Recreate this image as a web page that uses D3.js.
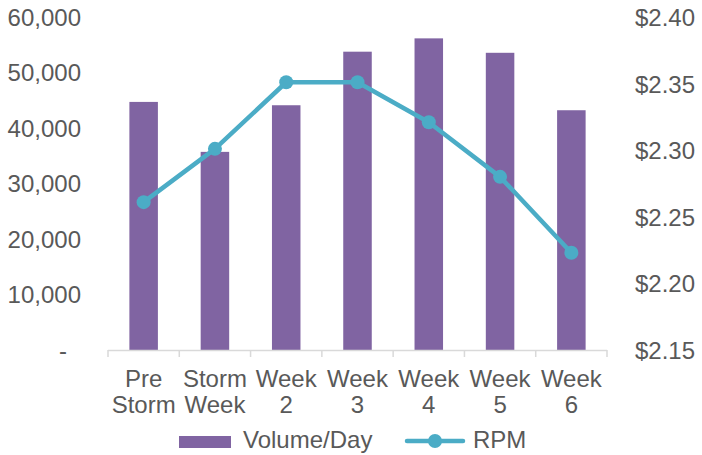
<!DOCTYPE html>
<html><head><meta charset="utf-8">
<script src="https://cdn.jsdelivr.net/npm/d3@7"></script>
<style>body{margin:0;background:#fff}svg{display:block;font-family:"Liberation Sans",Arial,sans-serif}</style>
</head><body>
<svg id="c" width="702" height="455"></svg>
<script>
const categories = [["Pre","Storm"],["Storm","Week"],["Week","2"],["Week","3"],["Week","4"],["Week","5"],["Week","6"]];
const volumePerDay = [44700, 35700, 44100, 53750, 56150, 53550, 43200];
const rpm = [2.261, 2.301, 2.351, 2.351, 2.321, 2.280, 2.223];
const leftTicks = [0, 10000, 20000, 30000, 40000, 50000, 60000];
const rightTicks = [2.15, 2.20, 2.25, 2.30, 2.35, 2.40];
const seriesNames = ["Volume/Day", "RPM"];

const barColor = "#8064A2", lineColor = "#4BACC6", textColor = "#595959", axisColor = "#D9D9D9";
const svg = d3.select("#c");
const keys = categories.map((d,i)=>i);
const x = d3.scaleBand().domain(keys).range([108, 607]).padding(0);
const yL = d3.scaleLinear().domain([0, 60000]).range([350, 17]);
const yR = d3.scaleLinear().domain([2.15, 2.40]).range([350, 17]);

// bars
const bw = x.bandwidth() * 0.4;
svg.append("g").selectAll("rect").data(volumePerDay).join("rect")
  .attr("x", (d,i)=>x(i) + x.bandwidth()/2 - bw/2)
  .attr("y", d=>yL(d)).attr("width", bw).attr("height", d=>yL(0)-yL(d))
  .attr("fill", barColor);

// x axis
const xg = svg.append("g").attr("transform", "translate(0,350)");
xg.append("line").attr("x1",108).attr("x2",607).attr("y1",0.5).attr("y2",0.5).attr("stroke",axisColor).attr("stroke-width",1.5);
const bounds = keys.map(i=>x(i)).concat([607]);
xg.selectAll("line.t").data(bounds).join("line").attr("class","t")
  .attr("x1",d=>d).attr("x2",d=>d).attr("y1",0).attr("y2",7).attr("stroke",axisColor).attr("stroke-width",1.5);
const lbl = xg.selectAll("text").data(categories).join("text")
  .attr("text-anchor","middle").attr("fill",textColor).attr("font-size",24)
  .attr("transform",(d,i)=>`translate(${x(i)+x.bandwidth()/2},0)`);
lbl.append("tspan").attr("x",0).attr("y",37).text(d=>d[0]);
lbl.append("tspan").attr("x",0).attr("y",63).text(d=>d[1]);

// left axis
const la = d3.axisLeft(yL).tickValues(leftTicks).tickSize(0).tickPadding(0)
  .tickFormat(d=> d===0 ? "-" : d3.format(",")(d));
const lg = svg.append("g").attr("transform","translate(81,0)").call(la);
lg.select(".domain").remove();
lg.selectAll("text").attr("fill",textColor).attr("font-size",24).attr("font-family","Liberation Sans, Arial, sans-serif")
  .attr("dy","0.35em").attr("x",d=>d===0?-14:0);

// right axis
const ra = d3.axisRight(yR).tickValues(rightTicks).tickSize(0).tickPadding(0)
  .tickFormat(d=>"$"+d3.format(".2f")(d));
const rg = svg.append("g").attr("transform","translate(635,0)").call(ra);
rg.select(".domain").remove();
rg.selectAll("text").attr("fill",textColor).attr("font-size",24).attr("font-family","Liberation Sans, Arial, sans-serif").attr("dy","0.35em");

// line
const cx = i=>x(i)+x.bandwidth()/2;
svg.append("path").datum(rpm).attr("fill","none").attr("stroke",lineColor).attr("stroke-width",4.5)
  .attr("stroke-linejoin","round")
  .attr("d", d3.line().x((d,i)=>cx(i)).y(d=>yR(d)));
svg.append("g").selectAll("circle").data(rpm).join("circle")
  .attr("cx",(d,i)=>cx(i)).attr("cy",d=>yR(d)).attr("r",7).attr("fill",lineColor);

// legend
const leg = svg.append("g");
leg.append("rect").attr("x",179).attr("y",436).attr("width",52).attr("height",12).attr("fill",barColor);
leg.append("text").attr("x",243).attr("y",448).attr("fill",textColor).attr("font-size",24).text(seriesNames[0]);
leg.append("line").attr("x1",407).attr("x2",463).attr("y1",441).attr("y2",441).attr("stroke",lineColor).attr("stroke-width",4.5).attr("stroke-linecap","round");
leg.append("circle").attr("cx",435).attr("cy",441).attr("r",7).attr("fill",lineColor);
leg.append("text").attr("x",473).attr("y",448).attr("fill",textColor).attr("font-size",24).text(seriesNames[1]);
</script>
</body></html>
